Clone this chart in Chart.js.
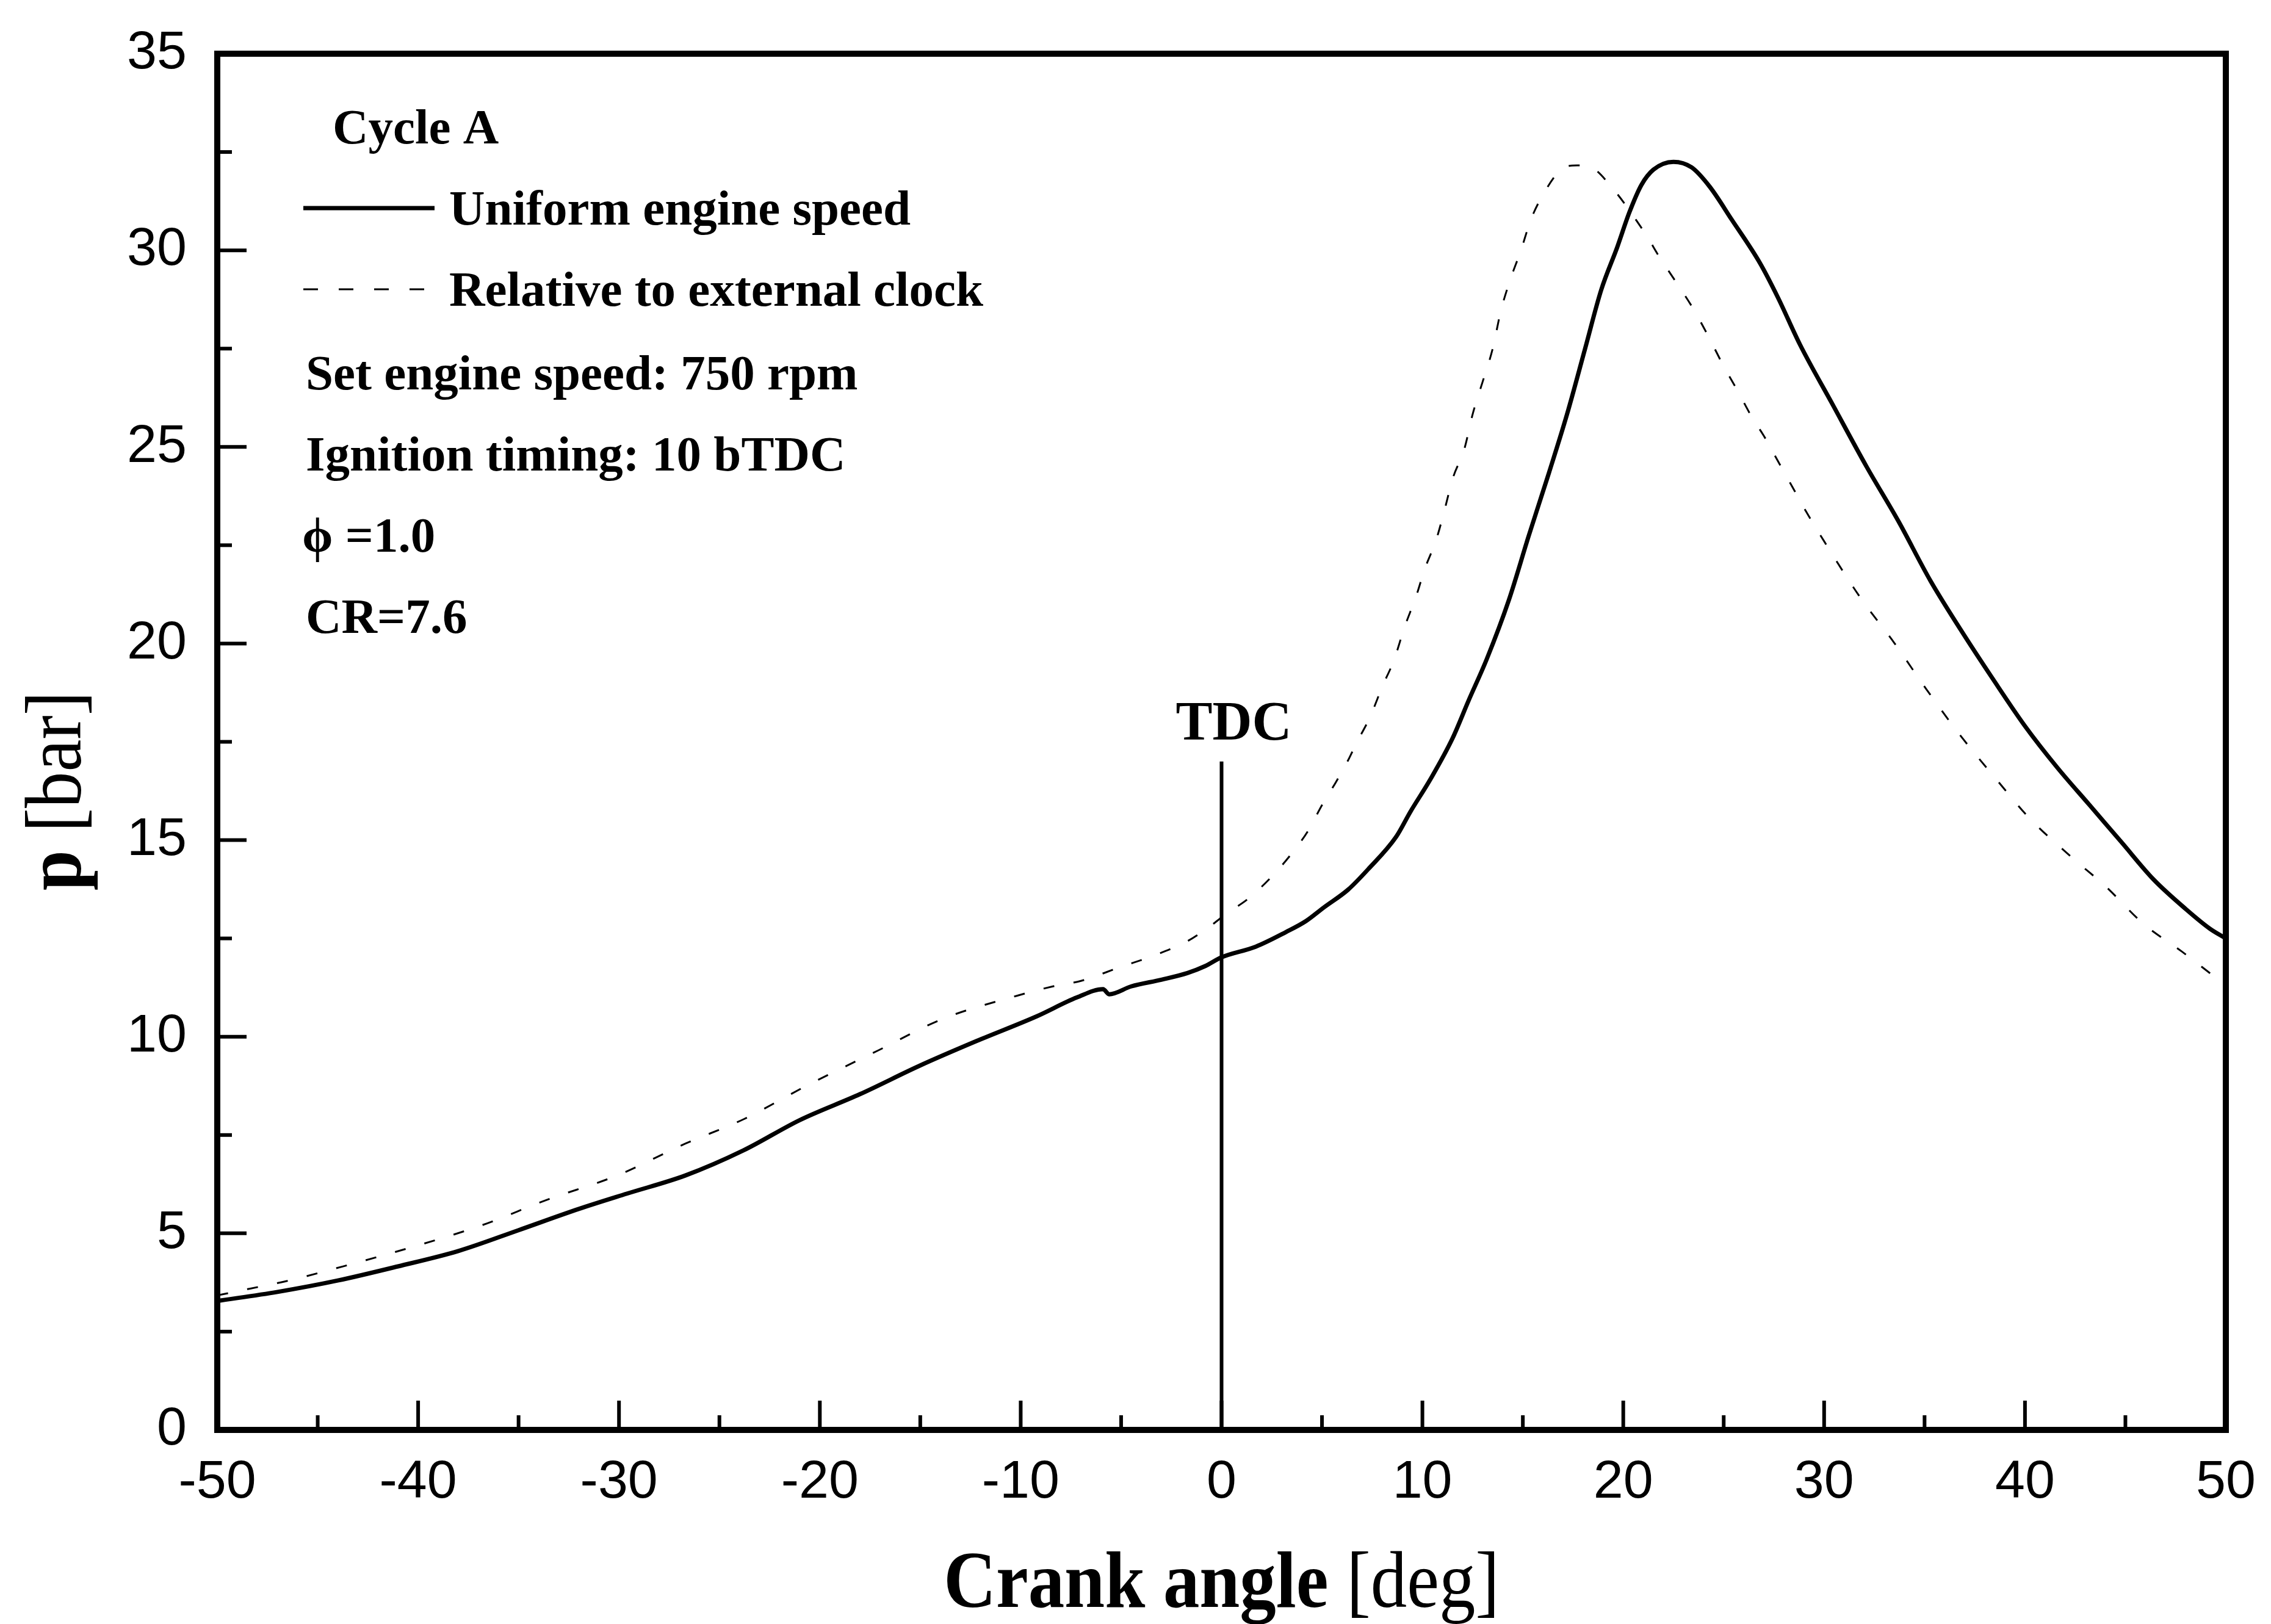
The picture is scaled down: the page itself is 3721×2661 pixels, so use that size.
<!DOCTYPE html>
<html>
<head>
<meta charset="utf-8">
<script src="https://cdn.jsdelivr.net/npm/chart.js@4"></script>
<style>
  html, body { margin: 0; padding: 0; background: #fff; }
  #wrap { width: 3721px; height: 2661px; }
</style>
</head>
<body>
<div id="wrap"><canvas id="pChart" width="3721" height="2661"></canvas></div>
<script>
"use strict";

// crank angle [deg] / pressure [bar]
const anglesUniform = [-50, -47, -44, -41, -38, -35, -32, -29.6, -26.7, -23.8, -21, -18, -15, -12.2, -9.2, -7.2, -5.9, -5.6, -4.5, -3, -1.7, -0.8, 0,
  1.7, 3.2, 4.2, 5.1, 6.3, 7.3, 8.7, 9.4, 10.4, 11.5, 12.3, 13.2, 14.3, 15.3, 16.3, 17.2, 18.1, 18.9, 19.7, 20.3, 20.9, 21.5, 22.5,
  23.4, 24.3, 25.4, 26.8, 27.7, 28.8, 30.4, 32.1, 33.7, 35.3, 36.8, 38.4, 40, 41.6, 43.2, 44.8, 46.4, 48, 49.2, 50];
const pressureUniform = [3.28, 3.51, 3.8, 4.16, 4.55, 5.08, 5.62, 6.01, 6.47, 7.11, 7.88, 8.54, 9.27, 9.89, 10.52, 11.0, 11.21, 11.08, 11.28, 11.45, 11.62, 11.8, 12.02,
  12.29, 12.66, 12.94, 13.29, 13.74, 14.26, 15.09, 15.72, 16.55, 17.59, 18.55, 19.6, 21.1, 22.75, 24.34, 25.83, 27.5, 28.99, 30.08, 30.96, 31.66, 32.05, 32.25,
  32.11, 31.62, 30.78, 29.68, 28.8, 27.6, 26.1, 24.51, 23.11, 21.59, 20.35, 19.1, 17.9, 16.85, 15.9, 14.95, 14.0, 13.25, 12.75, 12.5];

const anglesClock = [-50, -48.4, -46.6, -43.3, -40.1, -36.8, -33.6, -30.1, -26.7, -23.8, -20.6, -17.1, -13.9, -10.2, -8.4, -7, -5, -3.5, -1.7, -0.6,
  0.3, 1.3, 2.4, 3.4, 4.3, 5, 5.7, 6.3, 6.7, 7.4, 8, 8.6, 9.1, 9.7, 10.1, 10.7, 11.1, 11.5, 12.1, 12.5, 13, 13.5, 13.9, 14.4, 14.9, 15.4, 16, 16.9,
  17.7, 18.4, 19.4, 21.1, 21.8, 22.5, 23.5, 24.3, 25, 25.7, 26.4, 27, 27.7, 28.4, 29.1, 30, 31.8, 33.5, 35.1, 36.8, 38.6, 40.2, 42.4, 44, 45.9, 47.8, 49.3];
const pressureClock = [3.42, 3.59, 3.78, 4.22, 4.68, 5.21, 5.85, 6.47, 7.28, 7.9, 8.77, 9.65, 10.45, 11.04, 11.28, 11.42, 11.78, 12.04, 12.43, 12.8,
  13.15, 13.5, 14.02, 14.6, 15.23, 15.89, 16.48, 17.03, 17.45, 18.14, 18.9, 19.6, 20.4, 21.22, 21.87, 22.66, 23.39, 24.18, 24.97, 25.83, 26.66, 27.5, 28.45, 29.29, 29.99, 30.78, 31.41, 32.05,
  32.16, 32.11, 31.62, 30.42, 29.83, 29.29, 28.5, 27.75, 27.05, 26.42, 25.76, 25.28, 24.64, 24.0, 23.36, 22.6, 21.17, 20.01, 18.83, 17.65, 16.53, 15.57, 14.53, 13.83, 12.87, 12.17, 11.58];

const tdcAngles = [0, 0];
const tdcPressure = [0, 17];

const xTickValues = [-50, -40, -30, -20, -10, 0, 10, 20, 30, 40, 50];
const yTickValues = [0, 5, 10, 15, 20, 25, 30, 35];
const seriesLabels = ["Uniform engine speed", "Relative to external clock"];
const infoLines = ["Set engine speed: 750 rpm", "Ignition timing: 10 bTDC", "\u03D5 =1.0", "CR=7.6"];

const serif = '"Liberation Serif", "Times New Roman", serif';
const sans = '"Liberation Sans", Arial, sans-serif';

function toPoints(xs, ys) {
    return xs.map((x, i) => ({ x: x, y: ys[i] }));
}

// draws pieces of text with different fonts on one baseline, squeezed by sx
function drawParts(ctx, parts, cx, y, sx) {
    let total = 0;
    parts.forEach(p => { ctx.font = p.font; total += ctx.measureText(p.text).width; });
    ctx.save();
    ctx.translate(cx, y);
    ctx.scale(sx, 1);
    let x = -total / 2;
    ctx.textAlign = "left";
    ctx.textBaseline = "alphabetic";
    parts.forEach(p => {
        ctx.font = p.font;
        ctx.fillText(p.text, x, 0);
        x += ctx.measureText(p.text).width;
    });
    ctx.restore();
}

const decorPlugin = {
    id: "decor",
    afterDatasetsDraw(chart) {
        const ctx = chart.ctx;
        const a = chart.chartArea;
        const xs = chart.scales.x;
        const ys = chart.scales.y;
        ctx.save();
        ctx.fillStyle = "#000";
        ctx.strokeStyle = "#000";

        // frame
        ctx.lineWidth = 10;
        ctx.strokeRect(a.left, a.top, a.right - a.left, a.bottom - a.top);

        // inward ticks, minor every half step
        ctx.lineWidth = 6;
        for (let v = -50; v <= 50; v += 5) {
            const px = xs.getPixelForValue(v);
            const len = v % 10 === 0 ? 48 : 24;
            ctx.beginPath();
            ctx.moveTo(px, a.bottom);
            ctx.lineTo(px, a.bottom - len);
            ctx.stroke();
        }
        for (let v = 0; v <= 35; v += 2.5) {
            const py = ys.getPixelForValue(v);
            const len = v % 5 === 0 ? 48 : 24;
            ctx.beginPath();
            ctx.moveTo(a.left, py);
            ctx.lineTo(a.left + len, py);
            ctx.stroke();
        }

        // legend block
        const ds = chart.data.datasets;
        ctx.font = "bold 81px " + serif;
        ctx.textAlign = "left";
        ctx.textBaseline = "alphabetic";
        ctx.fillText("Cycle A", 545, 235);

        ctx.lineWidth = ds[0].borderWidth;
        ctx.setLineDash([]);
        ctx.beginPath();
        ctx.moveTo(497, 341);
        ctx.lineTo(712, 341);
        ctx.stroke();
        ctx.fillText(seriesLabels[0], 736, 368);

        ctx.lineWidth = ds[1].borderWidth;
        ctx.setLineDash([24, 34]);
        ctx.beginPath();
        ctx.moveTo(497, 474);
        ctx.lineTo(700, 474);
        ctx.stroke();
        ctx.setLineDash([]);
        ctx.fillText(seriesLabels[1], 736, 501);

        infoLines.forEach((t, i) => {
            ctx.fillText(t, i === 2 ? 495 : 501, 638 + i * 133);
        });

        // TDC label
        ctx.font = "bold 90px " + serif;
        ctx.textAlign = "center";
        ctx.fillText("TDC", xs.getPixelForValue(0) + 20, 1212);

        // axis titles
        drawParts(ctx, [
            { text: "Crank angle ", font: "bold 132px " + serif },
            { text: "[deg]", font: "132px " + serif }
        ], (a.left + a.right) / 2, 2633, 0.9);

        ctx.save();
        ctx.translate(132, 1296);
        ctx.rotate(-Math.PI / 2);
        drawParts(ctx, [
            { text: "p ", font: "bold 132px " + serif },
            { text: "[bar]", font: "132px " + serif }
        ], 0, 0, 0.9);
        ctx.restore();

        ctx.restore();
    }
};

const canvas = document.getElementById("pChart");
const pChart = new Chart(canvas.getContext("2d"), {
    type: "line",
    data: {
        datasets: [{
            label: seriesLabels[0],
            data: toPoints(anglesUniform, pressureUniform),
            borderColor: "#000",
            borderWidth: 7,
            pointRadius: 0,
            cubicInterpolationMode: "monotone",
            fill: false
        }, {
            label: seriesLabels[1],
            data: toPoints(anglesClock, pressureClock),
            borderColor: "#000",
            borderWidth: 3,
            borderDash: [18, 32],
            pointRadius: 0,
            cubicInterpolationMode: "monotone",
            fill: false
        }, {
            label: "TDC",
            data: toPoints(tdcAngles, tdcPressure),
            borderColor: "#000",
            borderWidth: 6,
            pointRadius: 0,
            tension: 0,
            fill: false
        }]
    },
    options: {
        responsive: false,
        animation: false,
        layout: { padding: { top: 88, right: 74, left: 0, bottom: 0 } },
        plugins: {
            legend: { display: false },
            tooltip: { enabled: false }
        },
        scales: {
            x: {
                type: "linear",
                min: -50,
                max: 50,
                afterFit(s) {
                    s.height = 318;
                    s.paddingLeft = 0;
                    s.paddingRight = 0;
                },
                afterBuildTicks(s) { s.ticks = xTickValues.map(v => ({ value: v })); },
                grid: { display: false, drawTicks: false },
                border: { display: false },
                ticks: {
                    font: { family: sans, size: 88 },
                    color: "#000",
                    padding: 34,
                    maxRotation: 0,
                    autoSkip: false
                }
            },
            y: {
                type: "linear",
                min: 0,
                max: 35,
                afterFit(s) {
                    s.width = 356;
                    s.paddingTop = 0;
                    s.paddingBottom = 0;
                },
                afterBuildTicks(s) { s.ticks = yTickValues.map(v => ({ value: v })); },
                grid: { display: false, drawTicks: false },
                border: { display: false },
                ticks: {
                    font: { family: sans, size: 88 },
                    color: "#000",
                    padding: 50,
                    autoSkip: false
                }
            }
        }
    },
    plugins: [decorPlugin]
});
</script>
</body>
</html>
